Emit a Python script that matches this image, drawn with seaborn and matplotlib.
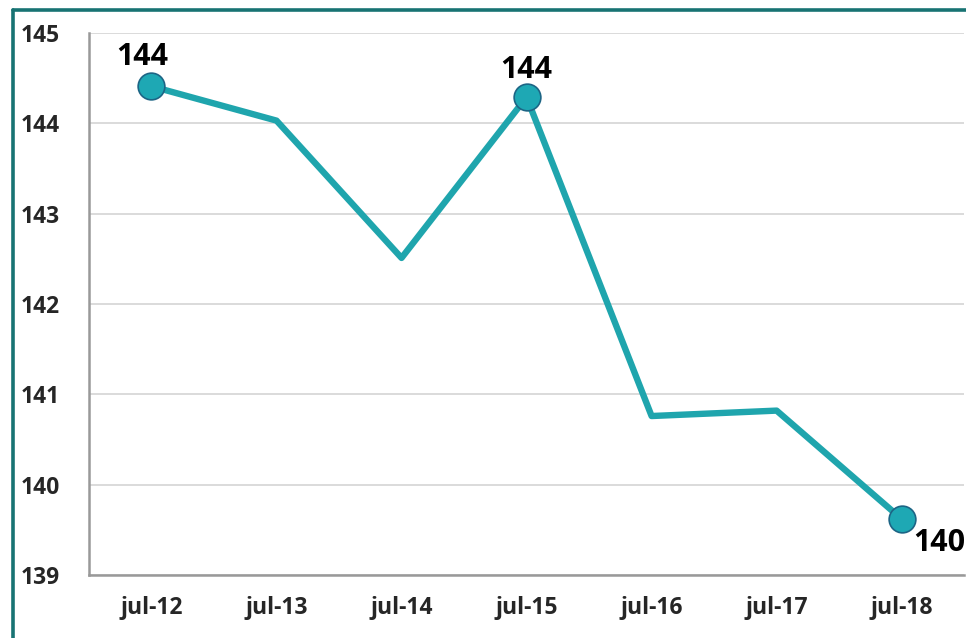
import pandas as pd
import seaborn as sns
import matplotlib.pyplot as plt
from matplotlib.lines import Line2D

# values
months = ['jul-12', 'jul-13', 'jul-14', 'jul-15', 'jul-16', 'jul-17', 'jul-18']
values = [144.41, 144.03, 142.51, 144.29, 140.76, 140.82, 139.62]
labelled = ['jul-12', 'jul-15', 'jul-18']
label_texts = ['144', '144', '140']

teal = '#1fa5ad'
df = pd.DataFrame({'month': months, 'value': values})

sns.set_style('white')
plt.rcParams['font.family'] = ['Open Sans', 'DejaVu Sans']

fig = plt.figure(figsize=(9.66, 6.38), dpi=100)
ax = fig.add_axes([0.0921, 0.0987, 0.906, 0.8496])

sns.lineplot(data=df, x='month', y='value', color=teal, linewidth=4.6, ax=ax, sort=False)

pts = df[df['month'].isin(labelled)]
sns.scatterplot(data=pts, x='month', y='value', color='#1ea8b4', edgecolor='#1d6585',
                linewidth=1.2, s=370, zorder=5, ax=ax)

offsets = [(-7, 10), (0, 9), (27, -17)]
aligns = ['bottom', 'bottom', 'center']
for m, txt, off, va in zip(labelled, label_texts, offsets, aligns):
    i = months.index(m)
    ax.annotate(txt, (i, values[i]), xytext=off, textcoords='offset points',
                ha='center', va=va, fontsize=22, fontweight='bold', color='black')

ax.set_ylim(139, 145)
ax.set_xlim(-0.5, 6.5)
ax.set_yticks(range(139, 146))
ax.set_xlabel('')
ax.set_ylabel('')
ax.grid(axis='y', color='#d4d4d4', linewidth=1.2)
ax.set_axisbelow(True)

ax.set_xticks([x - 0.5 for x in range(8)], minor=True)
ax.tick_params(axis='x', which='major', length=0, pad=15, labelsize=16.5)
ax.tick_params(axis='x', which='minor', length=8, width=1.5, color='#999999', direction='out')
ax.tick_params(axis='y', length=8, width=1.5, color='#999999', direction='out', pad=13, labelsize=16.5)
for lab in ax.get_xticklabels() + ax.get_yticklabels():
    lab.set_fontweight('bold')

for side in ['top', 'right']:
    ax.spines[side].set_visible(False)
for side in ['left', 'bottom']:
    ax.spines[side].set_color('#999999')
    ax.spines[side].set_linewidth(1.8)

# frame border of the original slide (top and left edges)
fig.add_artist(Line2D([0.0135, 1.0], [0.9843, 0.9843], color='#187373', linewidth=2.6))
fig.add_artist(Line2D([0.0135, 0.0135], [0.0, 0.9843], color='#187373', linewidth=2.6))

fig.savefig('out.png', dpi=100)
